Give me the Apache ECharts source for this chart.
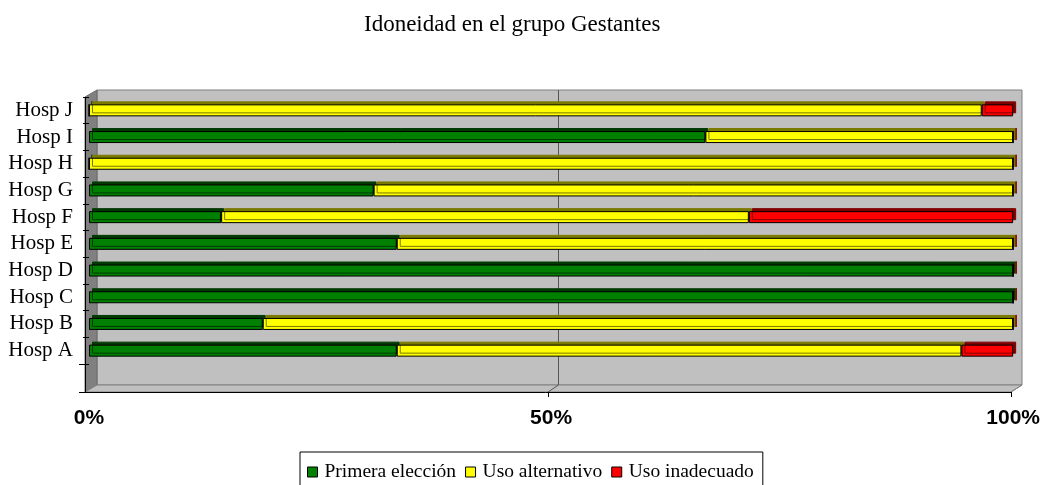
<!DOCTYPE html>
<html>
<head>
<meta charset="utf-8">
<script src="https://cdn.jsdelivr.net/npm/echarts@6/dist/echarts.min.js"></script>
<style>
  html, body { margin: 0; padding: 0; background: #fff; }
  #chart { width: 1043px; height: 485px; }
</style>
</head>
<body>
<div id="chart"></div>
<script>
var hospitales = ['Hosp A', 'Hosp B', 'Hosp C', 'Hosp D', 'Hosp E', 'Hosp F', 'Hosp G', 'Hosp H', 'Hosp I', 'Hosp J'];
var primera = [33.3, 18.8, 100, 100, 33.3, 14.3, 30.8, 0, 66.7, 0];
var alternativo = [61.1, 81.2, 0, 0, 66.7, 57.1, 69.2, 100, 33.3, 96.6];
var inadecuado = [5.6, 0, 0, 0, 0, 28.6, 0, 0, 0, 3.4];
var ticksX = [0, 50, 100];

var chartDom = document.getElementById('chart');
var myChart = echarts.init(chartDom);

var serif = '"Liberation Serif", "Times New Roman", serif';

function barStyle(color, dark) {
    return {
        color: color,
        borderColor: '#000',
        borderWidth: 1,
        shadowColor: dark,
        shadowBlur: 0,
        shadowOffsetX: 3,
        shadowOffsetY: -3
    };
}

// 3D walls / floor (decoration only)
var deco = [
    { type: 'rect', z: -10, shape: { x: 97, y: 90, width: 925, height: 295 },
      style: { fill: '#c0c0c0', stroke: '#808080', lineWidth: 1 } },
    { type: 'polygon', z: -9, shape: { points: [[85, 97], [97, 90], [97, 385], [85, 392]] },
      style: { fill: '#808080', stroke: '#6a6a6a', lineWidth: 1 } },
    { type: 'polygon', z: -9, shape: { points: [[85, 392], [1011, 392], [1022, 385], [97, 385]] },
      style: { fill: '#c0c0c0', stroke: '#808080', lineWidth: 1 } },
    { type: 'line', z: -8, shape: { x1: 558.5, y1: 90, x2: 558.5, y2: 385 },
      style: { stroke: '#555', lineWidth: 1 } },
    { type: 'line', z: -8, shape: { x1: 548, y1: 392, x2: 558.5, y2: 385 },
      style: { stroke: '#555', lineWidth: 1 } },
    { type: 'line', z: -8, shape: { x1: 1011, y1: 392, x2: 1022, y2: 385 },
      style: { stroke: '#808080', lineWidth: 1 } },
    // axis lines (front edge)
    { type: 'line', z: 5, shape: { x1: 85.5, y1: 97, x2: 85.5, y2: 392 },
      style: { stroke: '#000', lineWidth: 1 } },
    { type: 'line', z: 5, shape: { x1: 79, y1: 364.5, x2: 85, y2: 364.5 },
      style: { stroke: '#000', lineWidth: 1 } },
    { type: 'line', z: 5, shape: { x1: 79, y1: 392.5, x2: 1012, y2: 392.5 },
      style: { stroke: '#000', lineWidth: 1 } },
    { type: 'line', z: 5, shape: { x1: 548.5, y1: 392, x2: 548.5, y2: 397 },
      style: { stroke: '#000', lineWidth: 1 } },
    { type: 'line', z: 5, shape: { x1: 1011.5, y1: 392, x2: 1011.5, y2: 397 },
      style: { stroke: '#000', lineWidth: 1 } }
];

var option = {
    animation: false,
    title: {
        text: 'Idoneidad en el grupo Gestantes',
        left: 359,
        top: 8,
        textStyle: { fontFamily: serif, fontWeight: 'normal', fontSize: 23, color: '#000' }
    },
    legend: {
        data: ['Primera elección', 'Uso alternativo', 'Uso inadecuado'],
        left: 300,
        top: 452,
        icon: 'rect',
        itemWidth: 10,
        itemHeight: 10,
        itemGap: 9,
        padding: [10, 9, 8, 7],
        borderColor: '#000',
        borderWidth: 1,
        itemStyle: { borderColor: '#000', borderWidth: 1, shadowColor: 'rgba(0,0,0,0)', shadowOffsetX: 0, shadowOffsetY: 0 },
        textStyle: { fontFamily: serif, fontSize: 19.5, color: '#000', padding: [0, 0, 0, 2] }
    },
    grid: {
        left: 89,
        right: 29,
        top: 97,
        bottom: 121
    },
    xAxis: {
        type: 'value',
        min: 0,
        max: 100,
        interval: 50,
        offset: 28,
        axisLine: { show: false },
        axisTick: { show: false },
        splitLine: { show: false },
        axisLabel: {
            margin: 16,
            formatter: function (v) { return ticksX.indexOf(v) >= 0 ? v + '%' : ''; },
            fontFamily: '"Liberation Sans", Arial, sans-serif',
            fontWeight: 'bold',
            fontSize: 21,
            color: '#000'
        }
    },
    yAxis: {
        type: 'category',
        data: hospitales,
        offset: 4,
        axisLine: { show: false },
        axisTick: { show: true, length: 6, interval: 0, lineStyle: { color: '#000' } },
        axisLabel: {
            interval: 0,
            margin: 12,
            fontFamily: serif,
            fontSize: 21,
            color: '#000'
        }
    },
    graphic: deco,
    series: [
        {
            name: 'Primera elección',
            type: 'bar',
            stack: 'total',
            barWidth: 12,
            data: primera,
            itemStyle: barStyle('#008000', '#003a00')
        },
        {
            name: 'Uso alternativo',
            type: 'bar',
            stack: 'total',
            barWidth: 12,
            data: alternativo,
            itemStyle: barStyle('#ffff00', '#7a7a00')
        },
        {
            name: 'Uso inadecuado',
            type: 'bar',
            stack: 'total',
            barWidth: 12,
            data: inadecuado,
            itemStyle: barStyle('#ff0000', '#800000')
        }
    ]
};

myChart.setOption(option);
</script>
</body>
</html>
